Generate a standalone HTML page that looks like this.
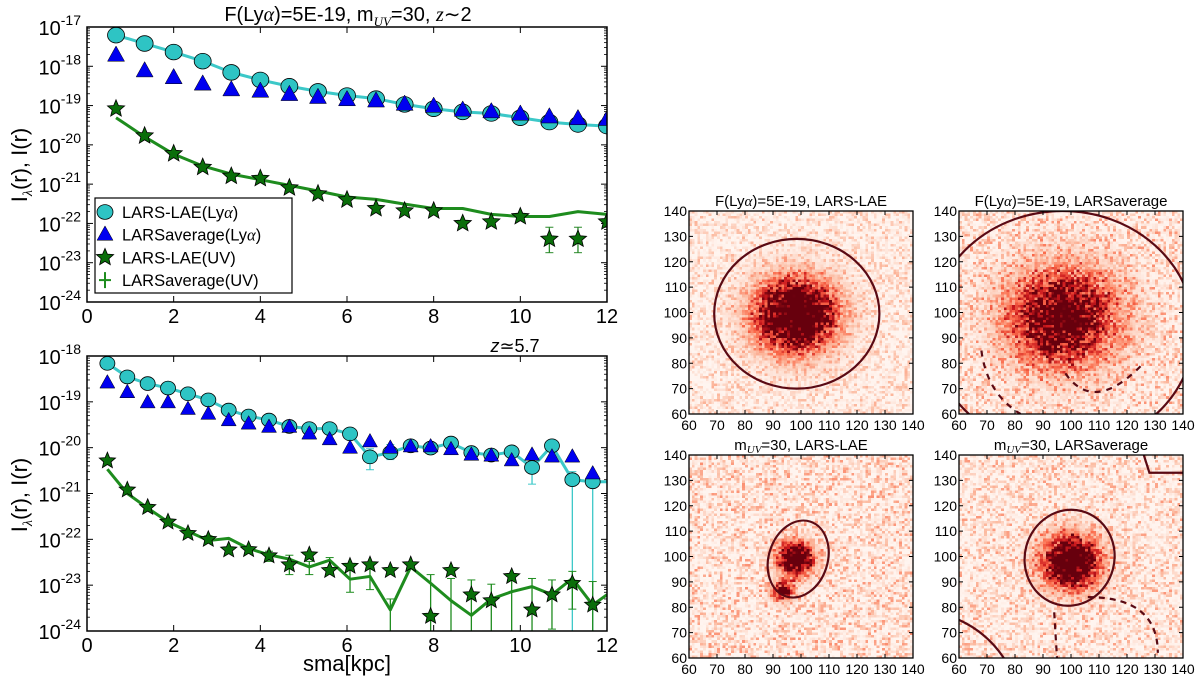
<!DOCTYPE html>
<html><head><meta charset="utf-8"><style>
html,body{margin:0;padding:0;background:#fff;}
#wrap{position:relative;width:1200px;height:677px;overflow:hidden;}
canvas{position:absolute;image-rendering:pixelated;}
svg{position:absolute;left:0;top:0;}
text{font-family:"Liberation Sans",sans-serif;fill:#000;}
</style></head><body>
<div id="wrap">
<canvas id="hm0" width="80" height="80" style="left:689px;top:211px;width:224px;height:203px"></canvas>
<canvas id="hm1" width="80" height="80" style="left:959px;top:211px;width:224px;height:203px"></canvas>
<canvas id="hm2" width="80" height="80" style="left:689px;top:455px;width:224px;height:203px"></canvas>
<canvas id="hm3" width="80" height="80" style="left:959px;top:455px;width:224px;height:203px"></canvas>
<svg id="svg" width="1200" height="677" xmlns="http://www.w3.org/2000/svg"></svg>
</div>
<script>
// ---------- Top chart data (z~2) ----------
const topX = [0.67,1.33,2,2.67,3.33,4,4.67,5.33,6,6.67,7.33,8,8.67,9.33,10,10.67,11.33,12];
const topLaeLya = [6.2e-18,3.8e-18,2.3e-18,1.35e-18,7e-19,4.5e-19,3.1e-19,2.3e-19,1.8e-19,1.5e-19,1.07e-19,8.3e-20,6.9e-20,6.3e-20,4.9e-20,3.8e-20,3.3e-20,3e-20];
const topAvgLya = [1.9e-18,7.6e-19,5.1e-19,3.5e-19,2.5e-19,2.3e-19,1.9e-19,1.6e-19,1.4e-19,1.3e-19,1.07e-19,9.5e-20,7.6e-20,6.9e-20,6e-20,5.1e-20,4.6e-20,4.4e-20];
const topLaeUV = [8.3e-20,1.7e-20,6e-21,2.7e-21,1.6e-21,1.4e-21,8.1e-22,5.7e-22,4e-22,2.4e-22,2.1e-22,2.1e-22,1.0e-22,1.1e-22,1.5e-22,4e-23,4e-23,1.1e-22];
const topLaeUVErr = [0.3,0.1,0.1,0.1,0.1,0.1,0.1,0.1,0.1,0.15,0.15,0.15,0.15,0.15,0.15,0.5,0.5,0.15];
const topAvgUV = [4.9e-20,1.6e-20,5.8e-21,2.9e-21,1.8e-21,1.3e-21,9.3e-22,6.7e-22,4.7e-22,4.1e-22,3.1e-22,2.4e-22,2.4e-22,1.7e-22,1.5e-22,1.5e-22,2.0e-22,1.7e-22];
const topYTicks = [-17,-18,-19,-20,-21,-22,-23,-24];
// ---------- Bottom chart data (z~5.7) ----------
const botX = [0.47,0.93,1.4,1.87,2.33,2.8,3.27,3.73,4.2,4.67,5.13,5.6,6.07,6.53,7.0,7.47,7.93,8.4,8.87,9.33,9.8,10.27,10.73,11.2,11.67];
const botLaeLya = [6.9e-19,3.5e-19,2.5e-19,2e-19,1.5e-19,1.1e-19,6.6e-20,4.9e-20,4e-20,2.9e-20,2.6e-20,2.6e-20,2e-20,6.3e-21,7.8e-21,1.1e-20,9.8e-21,1.26e-20,7.8e-21,6.9e-21,8.1e-21,3.7e-21,1.1e-20,2e-21,1.8e-21];
const botLaeLyaLo = [0,0,0,0,0,0,0,0,0,0,0,0,0,3.3e-21,5.5e-21,0,0,0,0,0,0,1.6e-21,0,1e-24,1e-24];
const botAvgLya = [2.6e-19,1.6e-19,9.6e-20,9.6e-20,6.9e-20,5.4e-20,3.9e-20,3.3e-20,2.8e-20,2.8e-20,2e-20,1.5e-20,9.8e-21,1.35e-20,9.8e-21,1.05e-20,1.05e-20,9.1e-21,6.9e-21,6.6e-21,5.2e-21,6.9e-21,6.3e-21,6.3e-21,2.7e-21];
const botLaeUV = [5.2e-21,1.2e-21,5e-22,2.4e-22,1.35e-22,1e-22,5.9e-23,6e-23,4.4e-23,2.8e-23,4.6e-23,2.1e-23,2.6e-23,2.8e-23,2.1e-23,2.8e-23,2.1e-24,2.1e-23,6.2e-24,4.6e-24,1.55e-23,2.9e-24,6.2e-24,1.1e-23,3.7e-24];
const botAvgUVX = [0.47,0.93,1.4,1.87,2.33,2.8,3.27,3.73,4.2,4.67,5.13,5.6,6.07,6.53,7.0,7.47,7.93,8.4,8.87,9.33,9.8,10.27,10.73,11.2,11.67,12];
const botAvgUV = [3.4e-21,1e-21,4.8e-22,2.4e-22,1.5e-22,9.4e-23,1.05e-22,6.3e-23,4.6e-23,3.7e-23,2.5e-23,3.5e-23,1.35e-23,1.55e-23,2.9e-24,2.5e-23,1.1e-23,4.6e-24,2.2e-24,5e-24,7.2e-24,9.3e-24,6.2e-24,1.4e-23,3.7e-24,6.2e-24];
const botAvgUVHi = [0,0,0,0,0,1.2e-22,0,0,5.5e-23,4.5e-23,3.3e-23,4e-23,2.2e-23,2.5e-23,5e-24,0,1.7e-23,1.4e-23,1.3e-23,1.05e-23,1.3e-23,1.4e-23,1.3e-23,2e-23,1.2e-23,0];
const botAvgUVLo = [0,0,0,0,0,0,0,0,3.3e-23,1.7e-23,1.7e-23,1.8e-23,7e-24,8e-24,1e-24,0,1e-24,1e-24,1e-24,1e-24,1e-24,1e-24,1.1e-24,3e-24,1e-24,0];
const botYTicks = [-18,-19,-20,-21,-22,-23,-24];
const xTicks = [0,2,4,6,8,10,12];
// ---------- Heatmap parameters ----------
const hmCx = [98,97,98,100];
const hmCy = [99,98,99,98];
const hmSigma = [9,12,4,6.5];
const hmPeak = [1.8,1.3,1.7,1.7];
const hmNoise = [0.22,0.3,0.3,0.28];
const hmTicks = [60,70,80,90,100,110,120,130,140];

const NS="http://www.w3.org/2000/svg";
const svg=document.getElementById('svg');
function el(tag,attrs,parent){const e=document.createElementNS(NS,tag);for(const k in attrs)e.setAttribute(k,attrs[k]);(parent||svg).appendChild(e);return e;}

function logPanel(cfg){
  const g=el('g',{});
  
  
  const L=87,R=607,T=cfg.top,B=cfg.bottom;
  const yMax=cfg.yTicks[0], yMin=cfg.yTicks[cfg.yTicks.length-1];
  const xs=v=>L+(v/12)*(R-L);
  const ys=v=>T+(yMax-Math.log10(v))/(yMax-yMin)*(B-T);
  const clipId='clip'+cfg.name;
  const cp=el('clipPath',{id:clipId},g);el('rect',{x:L,y:T,width:R-L,height:B-T},cp);
  const ticks=el('g',{},g);
  
  cfg.yTicks.forEach(t=>{
    const y=T+(yMax-t)/(yMax-yMin)*(B-T);
    el('line',{x1:L,x2:L+6,y1:y,y2:y,stroke:'#000','stroke-width':1},ticks);
    el('line',{x1:R,x2:R-6,y1:y,y2:y,stroke:'#000','stroke-width':1},ticks);
    for(let m=2;m<10&&t>yMin;m++){const yy=T+(yMax-(t-1+Math.log10(m)))/(yMax-yMin)*(B-T);
      el('line',{x1:L,x2:L+3,y1:yy,y2:yy,stroke:'#000','stroke-width':0.8},ticks);
      el('line',{x1:R,x2:R-3,y1:yy,y2:yy,stroke:'#000','stroke-width':0.8},ticks);}
    const tx=el('text',{x:L-6,y:y+8,'text-anchor':'end','font-size':20},ticks);
    tx.innerHTML='10<tspan dy="-10" font-size="14">'+t+'</tspan>';
  });
  const xt=el('g',{},g);
  xTicks.forEach(t=>{const x=xs(t);
    el('line',{x1:x,x2:x,y1:B,y2:B-6,stroke:'#000'},xt);el('line',{x1:x,x2:x,y1:T,y2:T+6,stroke:'#000'},xt);
    const tx=el('text',{x:x,y:B+21,'text-anchor':'middle','font-size':20},xt);tx.textContent=t;});
  const d=el('g',{'clip-path':'url(#'+clipId+')'},g);
  (cfg.err||[]).forEach(e=>{
    e.x.forEach((xv,i)=>{if(!e.hi[i]&&!e.lo[i])return;
      const hi=e.hi[i]||e.v[i], lo=e.lo[i]||e.v[i];
      const x=xs(xv);
      const eb=el('line',{x1:x,x2:x,y1:ys(hi),y2:ys(lo),stroke:e.color,'stroke-width':1.3},d);
      
      if(e.hi[i])el('line',{x1:x-4,x2:x+4,y1:ys(hi),y2:ys(hi),stroke:e.color},d);
      if(e.lo[i]&&e.lo[i]>1.01e-24)el('line',{x1:x-4,x2:x+4,y1:ys(lo),y2:ys(lo),stroke:e.color},d);
    });
  });
  cfg.lines.forEach(l=>{
    const p=el('polyline',{points:l.x.map((xv,i)=>xs(xv)+','+ys(l.v[i])).join(' '),fill:'none',stroke:l.color,'stroke-width':3,'stroke-linejoin':'round'},d);
    
  });
  cfg.markers.forEach(m=>{
    const mg=el('g',{},d);
    m.x.forEach((xv,i)=>{drawMarker(mg,m.type,xs(xv),ys(m.v[i]),m.size);});
  });
  el('rect',{x:L,y:T,width:R-L,height:B-T,fill:'none',stroke:'#000','stroke-width':1.5},g);
  return {xs,ys};
}
function starPts(cx,cy,r){let p=[];for(let k=0;k<10;k++){const a=-Math.PI/2+k*Math.PI/5;const rr=k%2?r*0.45:r;p.push((cx+rr*Math.cos(a)).toFixed(1)+','+(cy+rr*Math.sin(a)).toFixed(1));}return p.join(' ');}
function drawMarker(parent,type,x,y,s){
  let e;
  if(type==='circle')e=el('ellipse',{cx:x,cy:y,rx:s,ry:s*0.92,fill:'#2ec4c4',stroke:'#000','stroke-width':0.8},parent);
  else if(type==='tri')e=el('polygon',{points:`${x},${y-s*1.1} ${x-s},${y+s*0.7} ${x+s},${y+s*0.7}`,fill:'#0000f0',stroke:'#000','stroke-width':0.5},parent);
  else e=el('polygon',{points:starPts(x,y,s),fill:'#0a6e0a',stroke:'#000','stroke-width':0.8},parent);
  
}

logPanel({name:'profile-chart-z2',top:27,bottom:302,yTicks:topYTicks,
  err:[{x:topX,v:topLaeUV,hi:topLaeUV.map((v,i)=>topLaeUVErr[i]>0.3?v*2:0),lo:topLaeUV.map((v,i)=>topLaeUVErr[i]>0.3?v*0.45:0),color:'#2a8a2a'}],
  lines:[{name:'lars-lae-lya-line',x:topX,v:topLaeLya,color:'#3cc8c8'},{name:'larsaverage-uv-line',x:topX,v:topAvgUV,color:'#1e8c1e'}],
  markers:[{name:'lars-lae-lya-markers',type:'circle',x:topX,v:topLaeLya,size:8.5},
           {name:'larsaverage-lya-markers',type:'tri',x:topX,v:topAvgLya,size:8.5},
           {name:'lars-lae-uv-markers',type:'star',x:topX,v:topLaeUV,size:9}]});
logPanel({name:'profile-chart-z57',top:356,bottom:631,yTicks:botYTicks,
  err:[{x:botX,v:botLaeLya,hi:botLaeLya.map((v,i)=>botLaeLyaLo[i]?v*1.5:0),lo:botLaeLyaLo,color:'#3cc8c8'},
       {x:botAvgUVX,v:botAvgUV,hi:botAvgUVHi,lo:botAvgUVLo,color:'#1e8c1e'}],
  lines:[{name:'lars-lae-lya-line',x:botX.concat([12]),v:botLaeLya.concat([1.8e-21]),color:'#3cc8c8'},{name:'larsaverage-uv-line',x:botAvgUVX,v:botAvgUV,color:'#1e8c1e'}],
  markers:[{name:'lars-lae-lya-markers',type:'circle',x:botX,v:botLaeLya,size:7.5},
           {name:'larsaverage-lya-markers',type:'tri',x:botX,v:botAvgLya,size:7.5},
           {name:'lars-lae-uv-markers',type:'star',x:botX,v:botLaeUV,size:8.5}]});

function txt(x,y,s,attrs,name,html){const t=el('text',Object.assign({x:x,y:y},attrs));if(html)t.innerHTML=s;else t.textContent=s;return t;}
txt(348,21,'F(Ly<tspan font-family="Liberation Serif" font-style="italic">α</tspan>)=5E-19, m<tspan dy="5" font-size="13" font-family="Liberation Serif" font-style="italic">UV</tspan><tspan dy="-5">=30,  </tspan><tspan font-family="Liberation Serif" font-style="italic">z</tspan>∼2',{'text-anchor':'middle','font-size':20},'top-chart-title',true);
txt(515,352,'<tspan font-style="italic">z</tspan>≃5.7',{'text-anchor':'middle','font-size':18,'font-family':'Liberation Serif'},'bottom-chart-title',true);
txt(347,671,'sma[kpc]',{'text-anchor':'middle','font-size':22},'x-axis-title',false);
[165,495].forEach((cy,i)=>{txt(0,0,'I<tspan dy="5" font-size="14" font-family="Liberation Serif" font-style="italic">λ</tspan><tspan dy="-5">(r), I(r)</tspan>',{'text-anchor':'middle','font-size':22,transform:`translate(27,${cy}) rotate(-90)`},'y-axis-title',true);});

const lg=el('g',{});
el('rect',{x:95,y:198,width:197,height:95,fill:'#fff',stroke:'#000','stroke-width':1.2},lg);
const legLabels=['LARS-LAE(Ly<tspan font-family="Liberation Serif" font-style="italic">α</tspan>)','LARSaverage(Ly<tspan font-family="Liberation Serif" font-style="italic">α</tspan>)','LARS-LAE(UV)','LARSaverage(UV)'];
const legTypes=['circle','tri','star','err'];
legLabels.forEach((s,i)=>{const y=212+i*22.7;
  const eg=el('g',{},lg);
  if(legTypes[i]==='err'){el('line',{x1:105,x2:105,y1:y-8,y2:y+8,stroke:'#1e8c1e','stroke-width':2},eg);el('line',{x1:99,x2:111,y1:y,y2:y,stroke:'#1e8c1e','stroke-width':2},eg);}
  else drawMarker(eg,legTypes[i],105,y,legTypes[i]==='star'?9:8);
  const t=el('text',{x:122,y:y+6,'font-size':16.5},eg);t.innerHTML=s;
});

const hmPanels=[[689,211],[959,211],[689,455],[959,455]];
const hmTitles=['F(Ly<tspan font-family="Liberation Serif" font-style="italic">α</tspan>)=5E-19, LARS-LAE','F(Ly<tspan font-family="Liberation Serif" font-style="italic">α</tspan>)=5E-19, LARSaverage','m<tspan dy="3" font-size="11" font-family="Liberation Serif" font-style="italic">UV</tspan><tspan dy="-3">=30, LARS-LAE</tspan>','m<tspan dy="3" font-size="11" font-family="Liberation Serif" font-style="italic">UV</tspan><tspan dy="-3">=30, LARSaverage</tspan>'];
const stops=[[255,245,240],[252,187,161],[251,106,74],[203,24,29],[103,0,13]];
function cmap(t){t=Math.max(0,Math.min(1,t))*4;const i=Math.min(3,Math.floor(t)),f=t-i;return stops[i].map((c,k)=>Math.round(c+(stops[i+1][k]-c)*f));}
function hash(i,j,s){let h=Math.sin(i*127.1+j*311.7+s*74.7)*43758.5453;return h-Math.floor(h);}
hmPanels.forEach((p,n)=>{
  const c=document.getElementById('hm'+n).getContext('2d');const img=c.createImageData(80,80);
  for(let j=0;j<80;j++)for(let i=0;i<80;i++){
    const dx=60+i+0.5-hmCx[n], dy=140-j-0.5-hmCy[n];
    let v=hmPeak[n]*Math.exp(-(dx*dx+dy*dy)/(2*hmSigma[n]*hmSigma[n]));
    if(n===2){const ex=60+i-93,ey=140-j-87;v+=1.1*Math.exp(-(ex*ex+ey*ey)/(2*2.5*2.5));}
    const r=hash(i,j,n);
    v=v*(0.5+1.0*r)+hmNoise[n]*Math.pow(hash(j,i,n+9),3)*1.3;
    const col=cmap(v);const o=(j*80+i)*4;img.data[o]=col[0];img.data[o+1]=col[1];img.data[o+2]=col[2];img.data[o+3]=255;}
  c.putImageData(img,0,0);
  const [L,T]=p,W=224,H=203;
  const g=el('g',{});
  const px=v=>L+(v-60)/80*W, py=v=>T+(140-v)/80*H;
  const cid='hmclip'+n;const cp=el('clipPath',{id:cid},g);el('rect',{x:L,y:T,width:W,height:H},cp);
  const cg=el('g',{'clip-path':`url(#${cid})`,fill:'none',stroke:'#5a0a14','stroke-width':2.2},g);
  
  if(n===0)el('ellipse',{cx:px(98.5),cy:py(99.5),rx:29.5/80*W,ry:29.5/80*H},cg);
  if(n===1){el('ellipse',{cx:px(97),cy:py(93),rx:47/80*W,ry:47/80*H},cg);
    el('path',{d:`M${px(68)} ${py(85)} Q${px(70)} ${py(68)} ${px(82)} ${py(60)}`,'stroke-dasharray':'6 6'},cg);
    el('path',{d:`M${px(98)} ${py(76)} Q${px(108)} ${py(60)} ${px(125)} ${py(79)}`,'stroke-dasharray':'6 6'},cg);}
  if(n===2)el('ellipse',{cx:px(99),cy:py(99),rx:10.5/80*W,ry:15.5/80*H,transform:`rotate(18 ${px(99)} ${py(99)})`},cg);
  if(n===3){el('ellipse',{cx:px(99.5),cy:py(99.5),rx:16/80*W,ry:19/80*H,transform:`rotate(15 ${px(99.5)} ${py(99.5)})`},cg);
    el('path',{d:`M${px(106)} ${py(84)} Q${px(131)} ${py(84)} ${px(131)} ${py(62)}`,'stroke-dasharray':'6 5'},cg);
    el('path',{d:`M${px(94)} ${py(78)} L${px(95)} ${py(60)}`,'stroke-dasharray':'6 5'},cg);
    el('path',{d:`M${px(60)} ${py(75)} Q${px(70)} ${py(70)} ${px(76)} ${py(60)}`},cg);
    el('path',{d:`M${px(126)} ${py(140)} L${px(128)} ${py(133)} L${px(140)} ${py(133)}`},cg);}
  hmTicks.forEach(t=>{
    el('line',{x1:px(t),x2:px(t),y1:T+H,y2:T+H-4,stroke:'#000'},g);el('line',{x1:px(t),x2:px(t),y1:T,y2:T+4,stroke:'#000'},g);
    el('line',{x1:L,x2:L+4,y1:py(t),y2:py(t),stroke:'#000'},g);el('line',{x1:L+W,x2:L+W-4,y1:py(t),y2:py(t),stroke:'#000'},g);
    const a=el('text',{x:px(t),y:T+H+16,'text-anchor':'middle','font-size':14},g);a.textContent=t;
    const b=el('text',{x:L-2,y:py(t)+5,'text-anchor':'end','font-size':14},g);b.textContent=t;
  });
  el('rect',{x:L,y:T,width:W,height:H,fill:'none',stroke:'#000','stroke-width':1.3},g);
  const tt=el('text',{x:L+W/2,y:T-5,'text-anchor':'middle','font-size':15},g);tt.innerHTML=hmTitles[n];
  
});
</script>
</body></html>
